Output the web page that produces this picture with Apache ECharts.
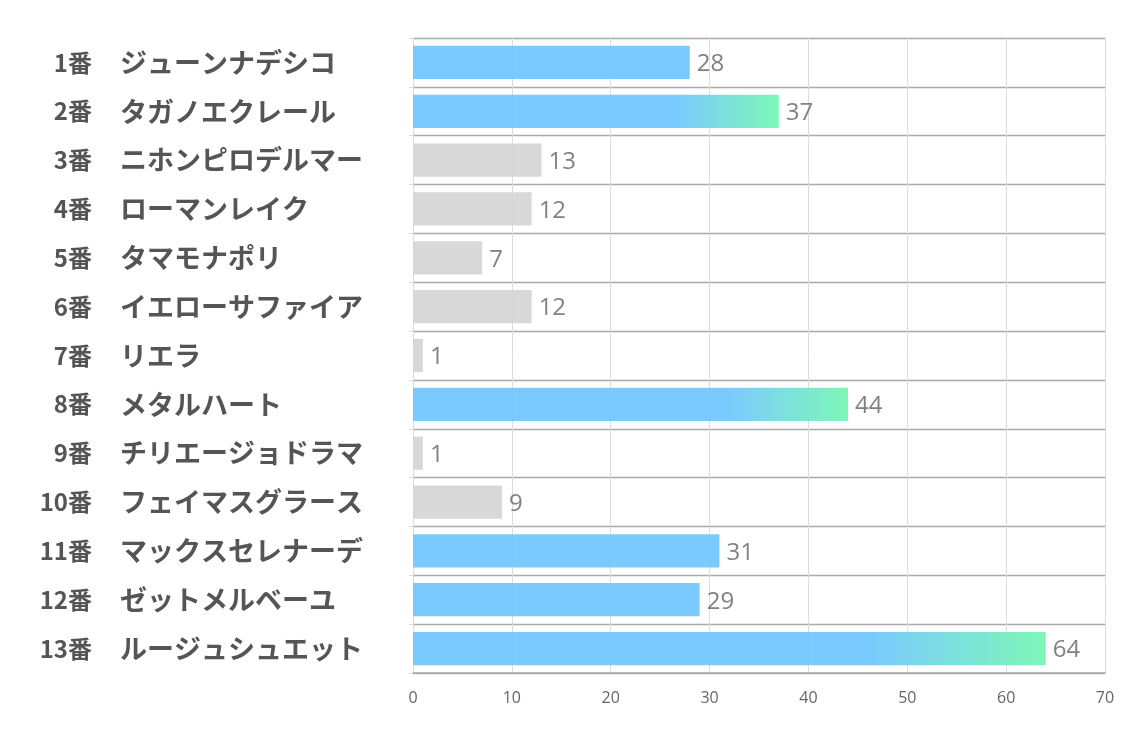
<!DOCTYPE html>
<html>
<head>
<meta charset="utf-8">
<script src="https://cdn.jsdelivr.net/npm/echarts@6/dist/echarts.min.js"></script>
<style>html,body{margin:0;padding:0;background:#fff;}#c{width:1134px;height:737px;}</style>
</head>
<body>
<div id="c"></div>
<script>
const numbers = ['1番','2番','3番','4番','5番','6番','7番','8番','9番','10番','11番','12番','13番'];
const names = ['ジューンナデシコ','タガノエクレール','ニホンピロデルマー','ローマンレイク','タマモナポリ','イエローサファイア','リエラ','メタルハート','チリエージョドラマ','フェイマスグラース','マックスセレナーデ','ゼットメルベーユ','ルージュシュエット'];
const values = [28, 37, 13, 12, 7, 12, 1, 44, 1, 9, 31, 29, 64];
const xTicks = [0, 10, 20, 30, 40, 50, 60, 70];

const BLUE = 'rgb(112,198,255)';
const GREEN = 'rgb(116,246,178)';
const GRAY = 'rgb(213,213,213)';

const sorted = values.slice().sort((a, b) => b - a);
const top3 = sorted[2], top6 = sorted[5];

const data = values.map(v => {
  let color;
  if (v >= top3) {
    color = new echarts.graphic.LinearGradient(0, 0, 1, 0, [
      {offset: 0, color: BLUE}, {offset: 0.72, color: BLUE}, {offset: 1, color: GREEN}
    ]);
  } else if (v >= top6) {
    color = BLUE;
  } else {
    color = GRAY;
  }
  return {value: v, itemStyle: {color: color, opacity: 0.93}};
});

const labelFont = 'Noto Sans CJK JP';
const chart = echarts.init(document.getElementById('c'));
chart.setOption({
  animation: false,
  grid: {left: 413, right: 29, top: 38, bottom: 64, containLabel: false},
  xAxis: {
    type: 'value', min: xTicks[0], max: xTicks[xTicks.length - 1], interval: 10,
    axisLine: {show: true, lineStyle: {color: '#aaaaaa', width: 1.5}},
    axisTick: {show: false},
    axisLabel: {color: '#666', fontSize: 16, margin: 17, fontFamily: 'Open Sans, Noto Sans, sans-serif'},
    splitLine: {show: true, lineStyle: {color: '#dcdcdc', width: 1}}
  },
  yAxis: [{
    type: 'category', inverse: true, position: 'left',
    data: numbers,
    axisLine: {show: true, lineStyle: {color: '#dcdcdc'}},
    axisTick: {show: true, length: 4, lineStyle: {color: '#dcdcdc'}},
    splitLine: {show: true, lineStyle: {color: '#a8a8a8', width: 1.3}},
    axisLabel: {
      margin: 321, align: 'right',
      fontSize: 24, fontWeight: 'bold', color: '#555', fontFamily: labelFont
    }
  }, {
    type: 'category', inverse: true, position: 'left',
    data: names,
    axisLine: {show: false},
    axisTick: {show: false},
    splitLine: {show: false},
    axisLabel: {
      margin: 293, align: 'left',
      fontSize: 27, fontWeight: 'bold', color: '#555', fontFamily: labelFont
    }
  }],
  series: [{
    type: 'bar',
    data: data,
    yAxisIndex: 0,
    barCategoryGap: '32%',
    label: {show: true, position: 'right', distance: 7, offset: [0, 2], color: '#777', fontSize: 24, fontFamily: 'Open Sans, Noto Sans, sans-serif'}
  }]
});
</script>
</body>
</html>
